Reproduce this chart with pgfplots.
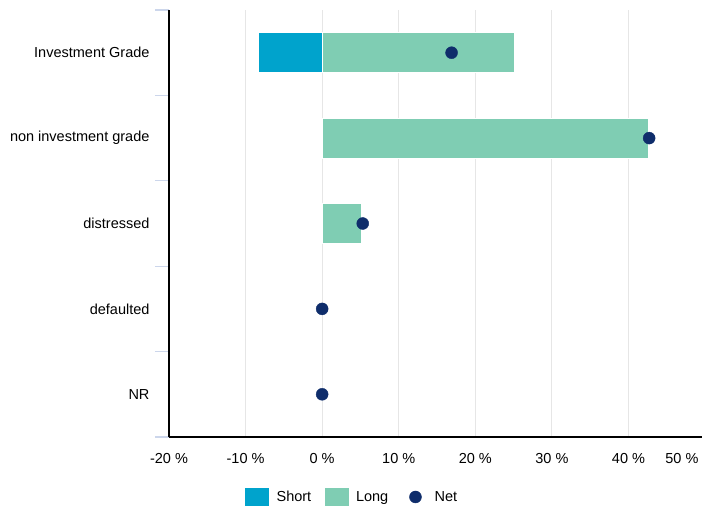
\documentclass[border=0pt]{standalone}
\usepackage{fontspec}
\setmainfont{Liberation Sans}
\usepackage{pgfplots}
\pgfplotsset{compat=1.18}
\definecolor{shortc}{HTML}{00A3CC}
\definecolor{longc}{HTML}{7FCDB3}
\definecolor{netc}{HTML}{0F2D6B}
\definecolor{gridc}{HTML}{E6E6E6}
\definecolor{tickc}{HTML}{CCD6EB}
\begin{document}
\begin{tikzpicture}[font=\fontsize{14.5}{17}\selectfont]
\begin{axis}[name=ax, scale only axis, width=533pt, height=427pt,
  xmin=-20, xmax=49.6, ymin=-0.5, ymax=4.5,
  axis x line*=bottom, axis y line*=left,
  axis line style={black, line width=1.2pt},
  xtick={-20,-10,...,40},
  xticklabels={-20 \%,-10 \%,0 \%,10 \%,20 \%,30 \%,40 \%},
  xmajorgrids, major x grid style={gridc, line width=1pt},
  ytick={0,1,2,3,4},
  yticklabels={NR,defaulted,distressed,non investment grade,Investment Grade},
  minor ytick={-0.5,0.5,...,4.5},
  minor y tick style={tickc, line width=1.2pt},
  major tick length=0pt, minor tick length=14pt, tick align=outside,
  yticklabel style={xshift=-16pt},
  xticklabel style={yshift=-13pt},
  legend style={at={(rel axis cs:0.3415,-0.1405)}, anchor=center, draw=none,
    legend columns=3, font=\fontsize{14.5}{17}\selectfont,
    nodes={inner sep=0pt},
    /tikz/every even column/.append style={column sep=14pt}},
  bar width=40pt,
]
\addplot[xbar, bar shift=0pt, fill=shortc, draw=white, line width=0.8pt,
  legend image code/.code={\fill[shortc] (0pt,-8.5pt) rectangle (23pt,8.5pt);\path (31pt,0);}]
  coordinates {(-8.3,4)};
\addlegendentry{Short}
\addplot[xbar, bar shift=0pt, fill=longc, draw=white, line width=0.8pt,
  legend image code/.code={\fill[longc] (0pt,-8.5pt) rectangle (23pt,8.5pt);\path (30pt,0);}]
  coordinates {(25.15,4) (42.6,3) (5.15,2)};
\addlegendentry{Long}
\addplot[only marks, mark=*, mark size=6pt, mark options={fill=netc, draw=netc},
  legend image code/.code={\fill[netc] (13pt,0) circle (6pt);\path (0pt,0) (32pt,0);}]
  coordinates {(16.9,4) (42.7,3) (5.3,2) (0,1) (0,0)};
\addlegendentry{Net}
\end{axis}
\node[anchor=north east, yshift=-13pt] at (ax.south east) {50 \%};
\pgfresetboundingbox
\path ([xshift=-169pt,yshift=-74pt]ax.south west) rectangle ([yshift=10pt]ax.north east);
\end{tikzpicture}
\end{document}
